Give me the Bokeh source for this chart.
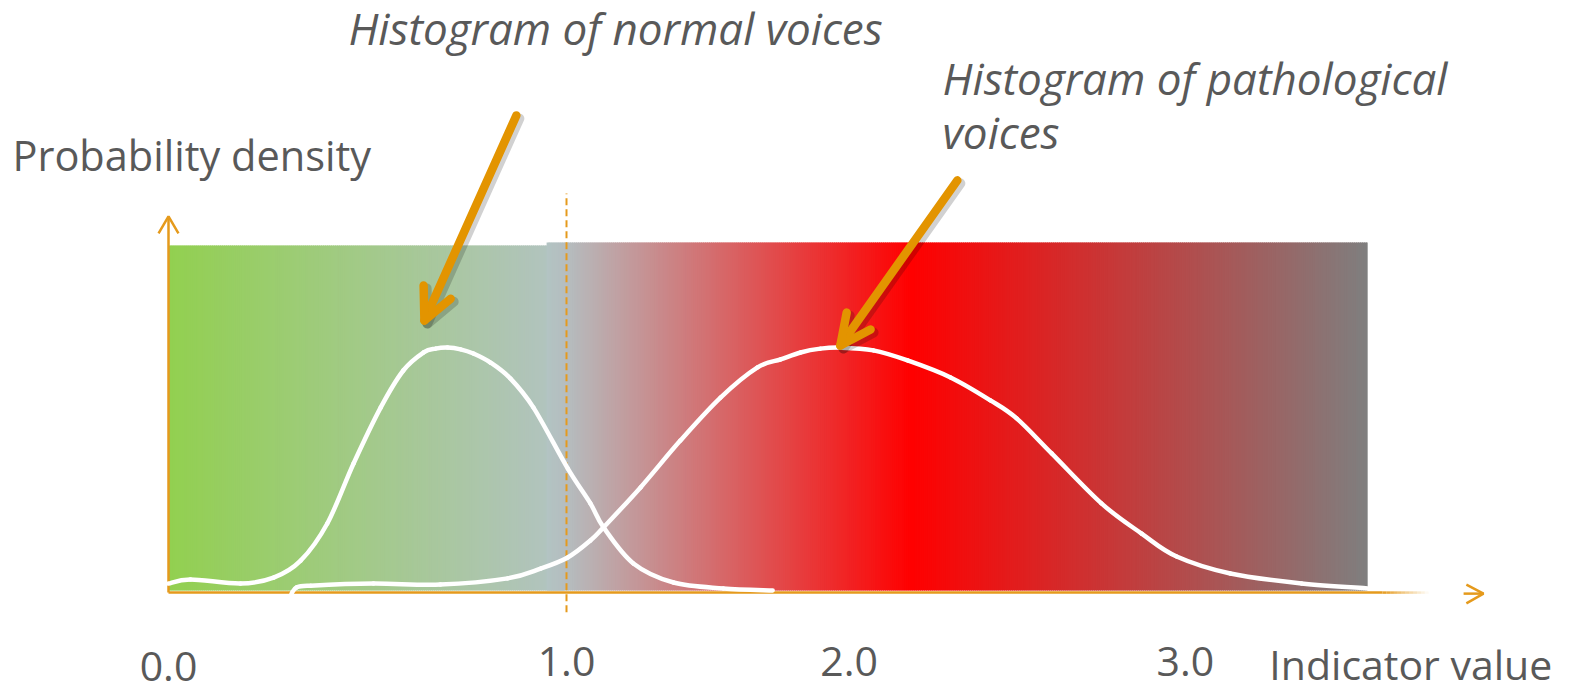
import numpy as np
from bokeh.plotting import figure
from bokeh.models import Range1d
from bokeh.core.properties import value
from bokeh.embed import file_html
from bokeh.resources import INLINE

# ---------------- data (indicator value, probability density) ----------------
normal_x = [0.000, 0.055, 0.181, 0.264, 0.332, 0.399, 0.465, 0.533, 0.590, 0.641, 0.671,
            0.701, 0.734, 0.766, 0.809, 0.859, 0.917, 1.003, 1.060, 1.093, 1.168, 1.269,
            1.394, 1.518]
normal_y = [0.020, 0.032, 0.020, 0.037, 0.086, 0.193, 0.366, 0.527, 0.634, 0.686, 0.697,
            0.700, 0.695, 0.683, 0.657, 0.611, 0.527, 0.352, 0.251, 0.182, 0.078, 0.023,
            0.006, 0.000]

path_x = [0.309, 0.322, 0.357, 0.515, 0.683, 0.852, 0.935, 1.003, 1.060, 1.093, 1.186,
          1.286, 1.387, 1.480, 1.538, 1.588, 1.638, 1.688, 1.771, 1.857, 1.965, 2.065,
          2.131, 2.219, 2.344, 2.445, 2.533, 2.668, 2.847, 3.013]
path_y = [-0.009, 0.009, 0.014, 0.020, 0.017, 0.035, 0.063, 0.095, 0.144, 0.182, 0.297,
          0.432, 0.556, 0.643, 0.666, 0.686, 0.697, 0.700, 0.692, 0.663, 0.614, 0.548,
          0.496, 0.395, 0.251, 0.164, 0.098, 0.049, 0.020, 0.006]

tick_values = [0.0, 1.0, 1.71, 2.555]
tick_labels = ["0.0", "1.0", "2.0", "3.0"]
threshold = 1.0

normal_zone = [0.0, 0.995]     # x extent of the "normal" band
patho_zone = [0.950, 3.013]    # x extent of the "pathological" band
band_top = [0.994, 1.003]

# gradient colour stops (x, colour)
normal_stops = [(0.0, "#92D050"), (0.995, "#B3C3C3")]
patho_stops = [(0.950, "#B3C4C3"), (1.005, "#B5BCBE"), (1.867, "#FF0000"), (3.013, "#7F7F7F")]

# ---------------- figure ----------------
W, H = 1571, 689
x0 = -168 / 398
y1 = 590 / 347
p = figure(width=W, height=H, output_backend="svg", toolbar_location=None,
           x_range=Range1d(x0, x0 + W / 398), y_range=Range1d(y1 - H / 347, y1),
           min_border=0, min_border_left=0, min_border_right=0,
           min_border_top=0, min_border_bottom=0)
p.axis.visible = False
p.grid.visible = False
p.outline_line_color = None
p.background_fill_color = "white"
p.border_fill_color = "white"


def hex2rgb(h):
    return np.array([int(h[i:i + 2], 16) for i in (1, 3, 5)], dtype=float)


def gradient(stops, x_start, x_end, top, n):
    xs = np.linspace(x_start, x_end, n + 1)
    sx = np.array([s[0] for s in stops])
    sc = np.array([hex2rgb(s[1]) for s in stops])
    lefts, rights, cols = [], [], []
    step = xs[1] - xs[0]
    for i in range(n):
        xm = (xs[i] + xs[i + 1]) / 2
        c = [np.interp(xm, sx, sc[:, k]) for k in range(3)]
        cols.append("#%02x%02x%02x" % tuple(int(round(v)) for v in c))
        lefts.append(xs[i])
        rights.append(min(xs[i + 1] + step * 0.6, x_end))
    p.quad(left=lefts, right=rights, bottom=0, top=top, fill_color=cols, line_color=None)


gradient(normal_stops, normal_zone[0], normal_zone[1], band_top[0], 200)
gradient(patho_stops, patho_zone[0], patho_zone[1], band_top[1], 420)

ORANGE = "#E59A1C"
ARROW = "#E39400"
px_x = 1 / 398
px_y = 1 / 347

# threshold dashed line
p.line([threshold, threshold], [-0.063, 1.144], line_color=ORANGE, line_width=2,
       line_dash="7 4")

# x axis with fade
ax_y = -0.006
p.line([0, 3.050], [ax_y, ax_y], line_color=ORANGE, line_width=2.5)
fade = np.linspace(3.050, 3.166, 13)
p.segment(x0=fade[:-1], y0=ax_y, x1=fade[1:], y1=ax_y, line_color=ORANGE, line_width=2.5,
          line_alpha=list(np.linspace(0.95, 0.05, 12)))
p.multi_line([[3.254, 3.304], [3.261, 3.304, 3.261]], [[-0.009, -0.009], [0.017, -0.009, -0.037]],
             line_color=ORANGE, line_width=2.5)
# y axis
p.line([0, 0], [ax_y, 1.078], line_color=ORANGE, line_width=2.5)
p.line([-0.025, 0, 0.025], [1.029, 1.078, 1.029], line_color=ORANGE, line_width=2.5)


# density curves drawn as smooth Bezier pieces through the read points
def smooth_curve(xs, ys):
    pts = np.column_stack([xs, ys])
    P = np.vstack([pts[0], pts, pts[-1]])
    a, b, c1, c2 = [], [], [], []
    for i in range(len(pts) - 1):
        p0, p1, p2, p3 = P[i], P[i + 1], P[i + 2], P[i + 3]
        a.append(p1)
        b.append(p2)
        c1.append(p1 + (p2 - p0) / 6.0)
        c2.append(p2 - (p3 - p1) / 6.0)
    a, b, c1, c2 = map(np.array, (a, b, c1, c2))
    p.bezier(x0=a[:, 0], y0=a[:, 1], x1=b[:, 0], y1=b[:, 1],
             cx0=c1[:, 0], cy0=c1[:, 1], cx1=c2[:, 0], cy1=c2[:, 1],
             line_color="white", line_width=4.5, line_cap="round")


smooth_curve(normal_x, normal_y)
smooth_curve(path_x, path_y)


# annotation arrows with shadow
def big_arrow(tail, tip, arm1, arm2):
    for dx, dy, col, alpha, w in [(3 * px_x, -3 * px_y, "black", 0.18, 10), (0, 0, ARROW, 1.0, 8.5)]:
        p.multi_line([[tail[0] + dx, tip[0] + dx], [arm1[0] + dx, tip[0] + dx, arm2[0] + dx]],
                     [[tail[1] + dy, tip[1] + dy], [arm1[1] + dy, tip[1] + dy, arm2[1] + dy]],
                     line_color=col, line_alpha=alpha, line_width=w,
                     line_cap="round", line_join="round")


big_arrow((0.874, 1.369), (0.643, 0.778), (0.641, 0.879), (0.709, 0.841))
big_arrow((1.982, 1.182), (1.688, 0.706), (1.704, 0.801), (1.764, 0.752))

TXT = "#595959"
FONT = value("Open Sans")
# y values below give the vertical centre of the capitals
p.text(x=[0.452], y=[1.620], text=["Histogram of normal voices"], text_font=FONT,
       text_font_size="44px", text_font_style="italic", text_color=TXT,
       text_baseline="alphabetic", text_align="left")
p.text(x=[1.945, 1.945], y=[1.476, 1.320], text=["Histogram of pathological", "voices"],
       text_font=FONT, text_font_size="44px", text_font_style="italic", text_color=TXT,
       text_baseline="alphabetic", text_align="left")
p.text(x=[-0.392], y=[1.255], text=["Probability density"], text_font=FONT,
       text_font_size="41.5px", text_color=TXT, text_baseline="alphabetic", text_align="left")
p.text(x=tick_values, y=[-0.220, -0.205, -0.205, -0.205], text=tick_labels, text_font=FONT,
       text_font_size="41px", text_color=TXT, text_baseline="alphabetic", text_align="center")
p.text(x=[2.766], y=[-0.213], text=["Indicator value"], text_font=FONT,
       text_font_size="41px", text_color=TXT, text_baseline="alphabetic", text_align="left")

open("out.html", "w").write(file_html(p, INLINE))
